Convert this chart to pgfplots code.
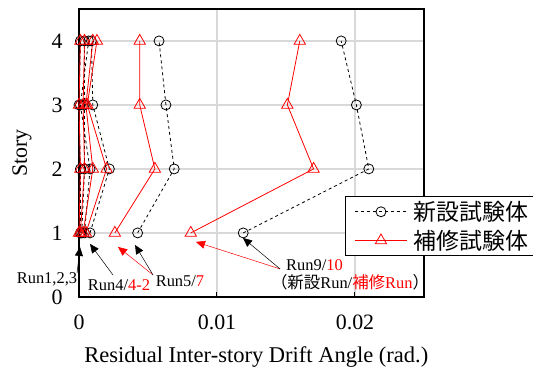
\documentclass[border=0pt]{standalone}
\usepackage{pgfplots}
\pgfplotsset{compat=1.18}
\usepackage{fontspec}
\setmainfont{Liberation Serif}
\newfontfamily\cjk{Noto Sans CJK JP}
\usetikzlibrary{arrows.meta}

\definecolor{gridgray}{RGB}{217,217,217}
\newcommand{\labfont}{\fontsize{22}{26}\selectfont}
\newcommand{\xlabfont}{\fontsize{22.6}{26}\selectfont}
\newcommand{\legfont}{\fontsize{23}{26}\selectfont}
\newcommand{\annfont}{\fontsize{16.5}{19}\selectfont}

\pgfplotsset{
  newrun/.style={black, line width=0.8bp, dash pattern=on 3bp off 3bp,
    mark=o, mark size=5bp, mark options={solid, line width=0.8bp}},
  reprun/.style={red, line width=0.8bp, solid,
    mark=triangle, mark size=6.5bp, mark options={solid, line width=0.8bp}},
}

\begin{document}
\begin{tikzpicture}
\begin{axis}[
  scale only axis, width=345bp, height=288bp,
  xmin=0, xmax=0.025, ymin=0, ymax=4.5,
  xtick={0,0.01,0.02}, xticklabels={0,0.01,0.02},
  scaled x ticks=false,
  ytick={0,1,2,3,4},
  xtick pos=left, tick align=inside,
  major tick length=5bp,
  ytick style={draw=none},
  xtick style={black, line width=1bp},
  xmajorgrids, ymajorgrids,
  grid style={gridgray, line width=1.2bp},
  axis line style={black, line width=1.5bp},
  /pgf/number format/assume math mode=true,
  tick label style={font=\labfont},
  xticklabel style={yshift=-14bp},
  yticklabel style={xshift=-13bp},
  label style={font=\labfont},
  xlabel={Residual Inter-story Drift Angle (rad.)},
  ylabel={Story},
  xlabel style={font=\xlabfont, at={(rel axis cs:0.514,-0.208)}, anchor=center},
  ylabel style={at={(rel axis cs:-0.165,0.5)}, anchor=center},
  clip=false,
  legend cell align=left,
  legend image code/.code={%
    \draw[mark repeat=2, mark phase=2, #1] plot coordinates {(0bp,0bp) (26bp,0bp) (52bp,0bp)};},
  legend style={at={(rel axis cs:0.771,0.351)}, anchor=north west,
    draw=black, line width=1.2bp, fill=white,
    font=\cjk\legfont, inner xsep=9bp, inner ysep=3bp,
    row sep=4bp, column sep=4bp},
]
% new specimens (dashed, circles) and repaired specimens (solid, triangles)
\addplot[newrun] coordinates {(0.0119,1) (0.0210,2) (0.0201,3) (0.0190,4)};
\addlegendentry{新設試験体}
\addplot[reprun] coordinates {(0.0081,1) (0.0170,2) (0.0151,3) (0.0160,4)};
\addlegendentry{補修試験体}

\addplot[newrun, forget plot] coordinates {(0.0001,1) (0.0001,2) (0.0000,3) (0.0001,4)};
\addplot[newrun, forget plot] coordinates {(0.0002,1) (0.0004,2) (0.0004,3) (0.0004,4)};
\addplot[newrun, forget plot] coordinates {(0.0004,1) (0.0008,2) (0.0001,3) (0.0007,4)};
\addplot[newrun, forget plot] coordinates {(0.0008,1) (0.0022,2) (0.0010,3) (0.0009,4)};
\addplot[newrun, forget plot] coordinates {(0.00425,1) (0.0069,2) (0.0063,3) (0.0058,4)};

\addplot[reprun, forget plot] coordinates {(0.0000,1) (0.0001,2) (0.0000,3) (0.0001,4)};
\addplot[reprun, forget plot] coordinates {(0.0001,1) (0.0004,2) (0.0003,3) (0.0004,4)};
\addplot[reprun, forget plot] coordinates {(0.0003,1) (0.0010,2) (0.0005,3) (0.0010,4)};
\addplot[reprun, forget plot] coordinates {(0.0005,1) (0.0020,2) (0.0006,3) (0.0013,4)};
\addplot[reprun, forget plot] coordinates {(0.0026,1) (0.0055,2) (0.0044,3) (0.0044,4)};

% run annotations
\draw[black, line width=0.5bp, -{Triangle[length=9bp,width=8bp]}]
  (axis cs:-0.00014,0.375) -- (axis cs:0.00007,0.781);
\draw[black, line width=0.5bp, -{Triangle[length=9bp,width=8bp]}]
  (axis cs:0.00246,0.344) -- (axis cs:0.0008,0.828);
\draw[red, line width=0.5bp, -{Triangle[length=9bp,width=8bp]}]
  (axis cs:0.00536,0.344) -- (axis cs:0.00283,0.781);
\draw[black, line width=0.5bp, -{Triangle[length=9bp,width=8bp]}]
  (axis cs:0.00536,0.344) -- (axis cs:0.00406,0.8125);
\draw[red, line width=0.5bp, -{Triangle[length=9bp,width=8bp]}]
  (axis cs:0.01457,0.4375) -- (axis cs:0.00848,0.859);
\draw[black, line width=0.5bp, -{Triangle[length=9bp,width=8bp]}]
  (axis cs:0.01457,0.4375) -- (axis cs:0.01188,0.922);

\node[font=\annfont, inner sep=0pt] at (axis cs:-0.00232,0.281) {Run1,2,3};
\node[font=\annfont, inner sep=0pt] at (axis cs:0.0029,0.1875) {Run4/\textcolor{red}{4-2}};
\node[font=\annfont, inner sep=0pt] at (axis cs:0.00732,0.25) {Run5/\textcolor{red}{7}};
\node[font=\annfont, inner sep=0pt, anchor=west] at (axis cs:0.0150,0.5) {Run9/\textcolor{red}{10}};
\node[font=\annfont, inner sep=0pt] at (axis cs:0.01964,0.234)
  {{\cjk （新設}Run/\textcolor{red}{{\cjk 補修}Run}{\cjk ）}};

\coordinate (bbSW) at (rel axis cs:-0.229,-0.243);
\coordinate (bbNE) at (rel axis cs:1.316,1.031);
\end{axis}
\pgfresetboundingbox
\path (bbSW) rectangle (bbNE);
\end{tikzpicture}
\end{document}
